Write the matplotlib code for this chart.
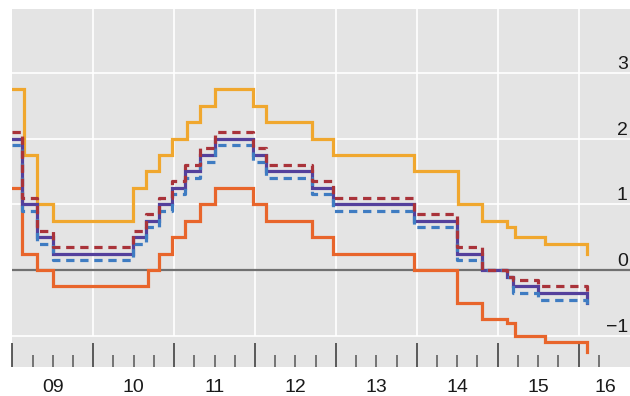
import matplotlib
matplotlib.use("Agg")
import matplotlib.pyplot as plt
import numpy as np

plt.rcParams['font.family'] = ['Liberation Sans', 'DejaVu Sans']

# ---- data (decimal years, percent) ----
policy_dates = [2009.0, 2009.116, 2009.30, 2009.50, 2010.496, 2010.653, 2010.81, 2010.97,
                2011.14, 2011.32, 2011.505, 2011.975, 2012.14, 2012.70, 2012.97, 2013.96,
                2014.50, 2014.81, 2015.11, 2015.19, 2015.50, 2016.10]
policy_rate = [2.0, 1.0, 0.5, 0.25, 0.5, 0.75, 1.0, 1.25, 1.5, 1.75, 2.0, 1.75, 1.5, 1.25,
               1.0, 0.75, 0.25, 0.0, -0.1, -0.25, -0.35, -0.5]
upper_fine = [2.1, 1.1, 0.6, 0.35, 0.6, 0.85, 1.1, 1.35, 1.6, 1.85, 2.1, 1.85, 1.6, 1.35,
              1.1, 0.85, 0.35, 0.0, -0.1, -0.15, -0.25, -0.4]
lower_fine = [1.9, 0.9, 0.4, 0.15, 0.4, 0.65, 0.9, 1.15, 1.4, 1.65, 1.9, 1.65, 1.4, 1.15,
              0.9, 0.65, 0.15, 0.0, -0.1, -0.35, -0.45, -0.6]

lending_dates = [2009.0, 2009.145, 2009.30, 2009.50, 2010.496, 2010.653, 2010.81, 2010.97,
                 2011.16, 2011.32, 2011.505, 2011.975, 2012.14, 2012.70, 2012.97, 2013.97,
                 2014.51, 2014.81, 2015.11, 2015.21, 2015.59, 2016.10]
lending_rate = [2.75, 1.75, 1.0, 0.75, 1.25, 1.5, 1.75, 2.0, 2.25, 2.5, 2.75, 2.5, 2.25, 2.0,
                1.75, 1.5, 1.0, 0.75, 0.65, 0.5, 0.4, 0.25]

deposit_dates = [2009.0, 2009.116, 2009.30, 2009.50, 2010.68, 2010.81, 2010.97, 2011.14,
                 2011.32, 2011.505, 2011.975, 2012.14, 2012.70, 2012.97, 2013.96, 2014.50,
                 2014.81, 2015.11, 2015.21, 2015.59, 2016.10]
deposit_rate = [1.25, 0.25, 0.0, -0.25, 0.0, 0.25, 0.5, 0.75, 1.0, 1.25, 1.0, 0.75, 0.5, 0.25,
                0.0, -0.5, -0.75, -0.8, -1.0, -1.1, -1.25]

year_labels = ['09', '10', '11', '12', '13', '14', '15', '16']
label_pos = [2009.5, 2010.5, 2011.5, 2012.5, 2013.5, 2014.5, 2015.5, 2016.33]
major_years = list(range(2009, 2017))
y_ticks = [-1, 0, 1, 2, 3]
y_labels = ['\u22121', '0', '1', '2', '3']

# ---- figure ----
fig = plt.figure(figsize=(6.3, 3.96), dpi=100)
ax = fig.add_axes([12.3 / 630, (396 - 367) / 396, 1 - 12.3 / 630, (367 - 9.3) / 396])
ax.set_facecolor('#e4e4e4')
ax.set_xlim(2009.0, 2016.636)
ax.set_ylim(-1.476, 3.968)
for s in ax.spines.values():
    s.set_visible(False)

# grid
for v in [-1, 1, 2, 3]:
    ax.axhline(v, color='white', lw=1.2, zorder=1)
ax.vlines(major_years[1:], -1, 3.968, color='white', lw=1.2, zorder=1)
ax.axhline(0, color='#707070', lw=1.6, zorder=2)

# series
lw = 2.3
ax.plot(deposit_dates, deposit_rate, drawstyle='steps-post', color='#e8652b', lw=lw,
        zorder=3, solid_joinstyle='miter')
ax.plot(lending_dates, lending_rate, drawstyle='steps-post', color='#f0a72e', lw=lw,
        zorder=3, solid_joinstyle='miter')
ax.plot(policy_dates, policy_rate, drawstyle='steps-post', color='#54409c', lw=lw,
        zorder=4, solid_joinstyle='miter')
ax.plot(policy_dates, lower_fine, drawstyle='steps-post', color='#3f7cc2', lw=lw,
        zorder=5, dashes=(2.6, 1.8))
ax.plot(policy_dates, upper_fine, drawstyle='steps-post', color='#a9333a', lw=lw,
        zorder=5, dashes=(2.6, 1.8))

# x ticks
ax.set_xticks(major_years)
ax.set_xticklabels([])
minor = [y + q for y in range(2009, 2017) for q in (0.25, 0.5, 0.75)]
minor = [m for m in minor if m <= 2016.3]
ax.set_xticks(minor, minor=True)
ax.tick_params(axis='x', which='major', direction='in', length=17.3, width=1.1,
               color='#333333')
ax.tick_params(axis='x', which='minor', direction='in', length=8.6, width=1.1,
               color='#555555')

sec = ax.secondary_xaxis('bottom')
sec.set_xticks(label_pos, year_labels)
sec.tick_params(length=0, pad=9, labelsize=14, labelcolor='#1a1a1a')
sec.spines['bottom'].set_visible(False)

# y ticks on right, inside panel
ax.yaxis.set_ticks_position('right')
ax.set_yticks(y_ticks, y_labels)
ax.tick_params(axis='y', length=0, pad=-1.6, labelsize=14, labelcolor='#1a1a1a')
for lab in ax.get_yticklabels():
    lab.set_horizontalalignment('right')
    lab.set_verticalalignment('bottom')

fig.savefig('out.png', dpi=100)
